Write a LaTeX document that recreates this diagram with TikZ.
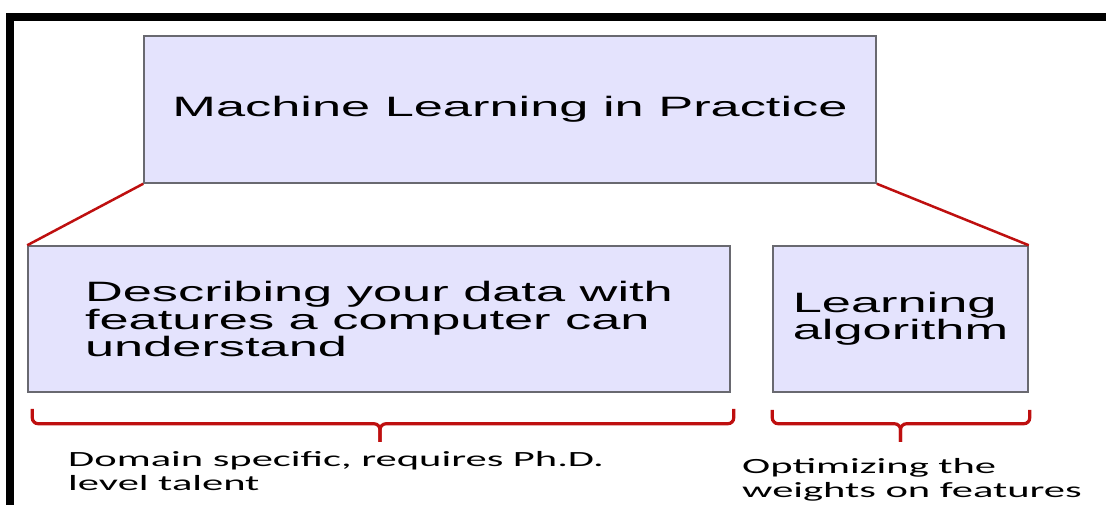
\documentclass[tikz,border=0pt]{standalone}
\usepackage{fontspec}
\newfontfamily\boxfont[FakeStretch=1.87]{Liberation Sans}
\newfontfamily\notefont[FakeStretch=1.96]{Carlito}
\usepackage{tikz}
\definecolor{box-fill}{RGB}{228,227,253}
\definecolor{box-line}{RGB}{105,105,112}
\definecolor{brace-red}{RGB}{190,15,15}

\begin{document}
\begin{tikzpicture}[x=1pt, y=-1pt,
    block/.style={rectangle, draw=box-line, line width=1.5pt, fill=box-fill, inner sep=0pt, align=left, font=\boxfont\fontsize{28}{27.5}\selectfont},
    link/.style={brace-red, line width=2.5pt},
    bracket/.style={brace-red, line width=3.2pt, rounded corners=6pt},
    note/.style={anchor=base west, inner sep=0pt, align=left, font=\notefont\fontsize{21.7}{24}\selectfont}]

    \useasboundingbox (0,0) rectangle (1106,505);

    % Frame
    \draw[line width=8pt] (10,505) -- (10,17.5) -- (1106,17.5);

    % Boxes
    \node[block, minimum width=732pt, minimum height=147pt] (title) at (510,109.5) {Machine Learning in Practice};
    \node[block, minimum width=702pt, minimum height=146pt] (desc) at (379,319) {Describing your data with\\features a computer can\\understand};
    \node[block, minimum width=255pt, minimum height=146pt] (algo) at (900.5,319) {Learning\\algorithm};

    % Links to the top box
    \draw[link] (title.south west) -- (desc.north west);
    \draw[link] (title.south east) -- (algo.north east);

    % Braces under the boxes
    \draw[bracket] ([xshift=5pt, yshift=-16pt]desc.south west) |- ([xshift=1pt, yshift=-31pt]desc.south) -- ([xshift=1pt, yshift=-49pt]desc.south);
    \draw[bracket] ([xshift=3pt, yshift=-16pt]desc.south east) |- ([xshift=1pt, yshift=-31pt]desc.south) -- ([xshift=1pt, yshift=-49pt]desc.south);
    \draw[bracket] ([yshift=-17pt]algo.south west) |- ([yshift=-31pt]algo.south) -- ([yshift=-49pt]algo.south);
    \draw[bracket] ([xshift=1pt, yshift=-17pt]algo.south east) |- ([yshift=-31pt]algo.south) -- ([yshift=-49pt]algo.south);

    % Notes
    \node[note] (skill) at (68,490) {Domain specific, requires Ph.D.\\level talent};
    \node[note] (optim) at (742,497) {Optimizing the\\weights on features};
\end{tikzpicture}
\end{document}
